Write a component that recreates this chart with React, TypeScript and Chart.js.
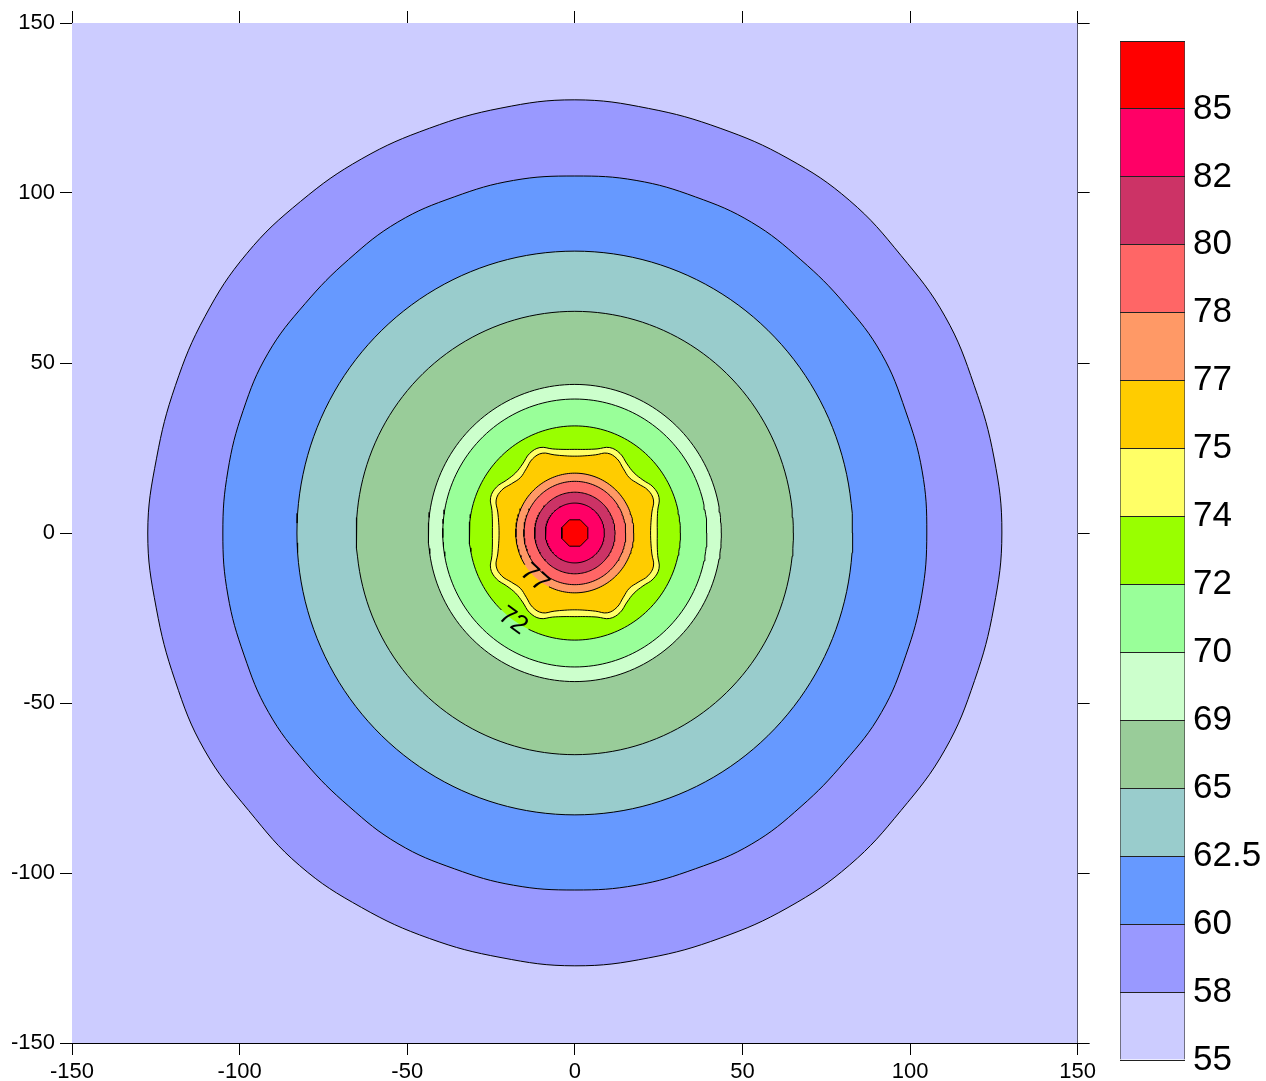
import React, { useEffect, useRef } from 'react';
import { Chart, registerables } from 'chart.js';

Chart.register(...registerables);

const FONT = '"Liberation Sans", Arial, Helvetica, sans-serif';

// ---- colour scale (lower boundary of each band) ----
const levels = [55, 58, 60, 62.5, 65, 69, 70, 72, 74, 75, 77, 78, 80, 82, 85];
const bandColors = [
  '#CCCCFF', '#9999FF', '#6699FF', '#99CCCC', '#99CC99', '#CCFFCC', '#99FF99',
  '#99FF00', '#FFFF66', '#FFCC00', '#FF9966', '#FF6666', '#CC3366', '#FF0066', '#FF0000',
];

// ---- axes ----
const axisMin = -150;
const axisMax = 150;
const axisStep = 50;

// ---- contour radii (samples at equally spaced angles, counter-clockwise from +x) ----
const contour58 = [
  127.4, 127.0, 126.8, 127.5, 127.0, 127.6, 127.2, 126.7, 126.8,
  127.4, 126.9, 126.7, 127.1, 127.3, 127.8, 127.4, 126.8, 126.7,
  127.4, 126.8, 126.9, 127.6, 127.0, 127.7, 127.2, 126.9, 126.8,
  127.3, 126.9, 126.8, 127.2, 127.5, 127.0, 127.5, 126.9, 126.9,
];
const contour60 = [
  105.0, 105.2, 105.0, 105.6, 105.0, 104.9, 105.5, 105.2, 105.3,
  105.0, 105.3, 105.2, 105.6, 105.0, 105.0, 105.7, 105.3, 105.1,
  105.0, 105.1, 105.0, 105.5, 105.0, 104.9, 105.5, 105.1, 105.2,
  105.0, 105.2, 105.1, 105.6, 105.0, 104.9, 105.6, 105.1, 105.1,
];
const contour62_5 = [82.9];
const contour65 = [65.2];
const contour69 = [43.7];
const contour70 = [39.4];
const contour72 = [31.5];
const contour74 = [
  24.6, 24.8, 25.6, 27.2, 27.0, 25.6, 25.0, 25.6, 27.0, 27.2, 25.6, 24.8,
  24.6, 24.8, 25.6, 27.2, 27.0, 25.6, 25.0, 25.6, 27.0, 27.2, 25.6, 24.8,
  24.6, 24.8, 25.6, 27.2, 27.0, 25.6, 25.0, 25.6, 27.0, 27.2, 25.6, 24.8,
  24.6, 24.8, 25.6, 27.2, 27.0, 25.6, 25.0, 25.6, 27.0, 27.2, 25.6, 24.8,
];
const contour75 = [
  22.6, 22.9, 23.8, 25.4, 25.2, 23.8, 23.0, 23.8, 25.2, 25.4, 23.8, 22.9,
  22.6, 22.9, 23.8, 25.4, 25.2, 23.8, 23.0, 23.8, 25.2, 25.4, 23.8, 22.9,
  22.6, 22.9, 23.8, 25.4, 25.2, 23.8, 23.0, 23.8, 25.2, 25.4, 23.8, 22.9,
  22.6, 22.9, 23.8, 25.4, 25.2, 23.8, 23.0, 23.8, 25.2, 25.4, 23.8, 22.9,
];
const contour77 = [17.6];
const contour78 = [15.2];
const contour80 = [12.0];
const contour82 = [8.8];
const contour85 = [4.2, 4.2, 4.2, 4.2, 4.2, 4.2, 4.2, 4.2];

const contourLevels = [58, 60, 62.5, 65, 69, 70, 72, 74, 75, 77, 78, 80, 82, 85];
const contourRadii = [
  contour58, contour60, contour62_5, contour65, contour69, contour70, contour72,
  contour74, contour75, contour77, contour78, contour80, contour82, contour85,
];
const contourStartAngle = [0, 0, 0, 0, 0, 0, 0, 0, 0, 0, 0, 0, 0, 22.5];

// ---- contour labels ----
const labelLevels = [77, 72];
const labelAngles = [227.7, 234.5];
const labelHalfGap = [16, 9];

const DEG = Math.PI / 180;
const CIRCLE_STEPS = 180;

type Pt = { x: number; y: number };

function buildContour(radii: number[], start: number) {
  const pts: Pt[] = [];
  const at = (r: number, a: number): Pt => ({ x: r * Math.cos(a * DEG), y: r * Math.sin(a * DEG) });
  if (radii.length === 1) {
    for (let k = 0; k <= CIRCLE_STEPS; k++) pts.push(at(radii[0], start + (k * 360) / CIRCLE_STEPS));
    return { pts, tension: 0, wrapped: false, step: 360 / CIRCLE_STEPS };
  }
  const n = radii.length;
  if (n <= 8) {
    for (let k = 0; k <= n; k++) pts.push(at(radii[k % n], start + (k * 360) / n));
    return { pts, tension: 0, wrapped: false, step: 360 / n };
  }
  for (let k = -1; k <= n + 1; k++) {
    const i = ((k % n) + n) % n;
    pts.push(at(radii[i], start + (k * 360) / n));
  }
  return { pts, tension: 0.4, wrapped: true, step: 360 / n };
}

const contourLabelPlugin = {
  id: 'contourLabels',
  afterDatasetsDraw(chart: any) {
    const { ctx } = chart;
    const xs = chart.scales.x;
    const ys = chart.scales.y;
    ctx.save();
    ctx.font = `26px ${FONT}`;
    ctx.fillStyle = '#000';
    ctx.textAlign = 'center';
    ctx.textBaseline = 'middle';
    labelLevels.forEach((lv, i) => {
      const ci = contourLevels.indexOf(lv);
      const r = contourRadii[ci][0];
      const P = (a: number) => ({
        px: xs.getPixelForValue(r * Math.cos(a * DEG)),
        py: ys.getPixelForValue(r * Math.sin(a * DEG)),
      });
      const c = P(labelAngles[i]);
      const p1 = P(labelAngles[i] - 1);
      const p2 = P(labelAngles[i] + 1);
      let rot = Math.atan2(p2.py - p1.py, p2.px - p1.px);
      if (rot > Math.PI / 2) rot -= Math.PI;
      if (rot < -Math.PI / 2) rot += Math.PI;
      ctx.save();
      ctx.translate(c.px, c.py);
      ctx.rotate(rot);
      ctx.fillText(String(lv), 0, 1);
      ctx.restore();
    });
    ctx.restore();
  },
};

export default function App() {
  const mainRef = useRef<HTMLCanvasElement>(null);
  const barRef = useRef<HTMLCanvasElement>(null);

  useEffect(() => {
    Chart.defaults.font.family = FONT;
    const built = contourRadii.map((r, i) => buildContour(r, contourStartAngle[i]));

    // filled regions: innermost first (Chart.js draws the last dataset first)
    const fillSets: any[] = built
      .map((b, i) => ({
        type: 'line',
        data: b.pts,
        backgroundColor: bandColors[levels.indexOf(contourLevels[i])],
        borderColor: 'rgba(0,0,0,0)',
        borderWidth: 0,
        fill: 'shape',
        pointRadius: 0,
        tension: b.tension,
      }))
      .reverse();
    fillSets.push({
      type: 'line',
      data: [
        { x: axisMin, y: axisMin },
        { x: axisMax, y: axisMin },
        { x: axisMax, y: axisMax },
        { x: axisMin, y: axisMax },
        { x: axisMin, y: axisMin },
      ],
      backgroundColor: bandColors[0],
      borderColor: 'rgba(0,0,0,0)',
      borderWidth: 0,
      fill: 'shape',
      pointRadius: 0,
      tension: 0,
    });

    const lineSets: any[] = built.map((b, i) => {
      const hidden = new Set<number>();
      if (b.wrapped) {
        hidden.add(0);
        hidden.add(b.pts.length - 2);
      }
      labelLevels.forEach((lv, li) => {
        if (lv !== contourLevels[i] || contourRadii[i].length !== 1) return;
        for (let k = 0; k < b.pts.length - 1; k++) {
          const mid = contourStartAngle[i] + (k + 0.5) * b.step;
          const diff = (((mid - labelAngles[li]) % 360) + 360) % 360;
          if (Math.min(diff, 360 - diff) < labelHalfGap[li]) hidden.add(k);
        }
      });
      const ds: any = {
        type: 'line',
        data: b.pts,
        fill: false,
        borderColor: '#000',
        backgroundColor: 'rgba(0,0,0,0)',
        borderWidth: 1,
        pointRadius: 0,
        tension: b.tension,
      };
      if (hidden.size) {
        ds.segment = {
          borderColor: (c: any) => (hidden.has(c.p0DataIndex) ? 'rgba(0,0,0,0)' : undefined),
        };
      }
      return ds;
    });

    const tickFont = { family: FONT, size: 22 };
    const grid = { drawOnChartArea: false, drawTicks: true, tickLength: 12, color: '#000', lineWidth: 1 };
    const border = { display: true, color: '#000', width: 1 };

    const main = new Chart(mainRef.current as HTMLCanvasElement, {
      type: 'line',
      data: { datasets: [...lineSets, ...fillSets] },
      options: {
        animation: false,
        responsive: false,
        maintainAspectRatio: false,
        events: [],
        layout: { padding: 0 },
        plugins: { legend: { display: false }, tooltip: { enabled: false } },
        scales: {
          x: {
            type: 'linear', position: 'bottom', min: axisMin, max: axisMax,
            ticks: { stepSize: axisStep, font: tickFont, color: '#000', padding: 4, maxRotation: 0, autoSkip: false },
            grid, border,
            afterFit: (s: any) => { s.height = 38; },
          },
          x2: {
            type: 'linear', position: 'top', min: axisMin, max: axisMax,
            ticks: { stepSize: axisStep, display: false },
            grid, border,
            afterFit: (s: any) => { s.height = 23; },
          },
          y: {
            type: 'linear', position: 'left', min: axisMin, max: axisMax,
            ticks: { stepSize: axisStep, font: tickFont, color: '#000', padding: 5, autoSkip: false },
            grid, border,
            afterFit: (s: any) => { s.width = 72; },
          },
          y2: {
            type: 'linear', position: 'right', min: axisMin, max: axisMax,
            ticks: { stepSize: axisStep, display: false },
            grid, border,
            afterFit: (s: any) => { s.width = 22; },
          },
        },
      } as any,
      plugins: [contourLabelPlugin],
    });

    const barSets = bandColors.map((c, i) => ({
      data: [[i, i + 1]],
      backgroundColor: c,
      borderColor: '#444',
      borderWidth: { left: 1, right: 1, top: 0, bottom: 0 },
      borderSkipped: false,
      barPercentage: 1,
      categoryPercentage: 1,
      grouped: false,
    }));

    const bar = new Chart(barRef.current as HTMLCanvasElement, {
      type: 'bar',
      data: { labels: ['scale'], datasets: barSets as any },
      options: {
        animation: false,
        responsive: false,
        maintainAspectRatio: false,
        events: [],
        layout: { padding: { left: 20, top: 41, bottom: 21, right: 0 } },
        plugins: { legend: { display: false }, tooltip: { enabled: false } },
        scales: {
          x: { display: false },
          y: {
            position: 'right', min: 0, max: levels.length,
            ticks: {
              stepSize: 1, autoSkip: false, font: { family: FONT, size: 35 }, color: '#000', padding: 8,
              callback: (v: any) => (levels[v] !== undefined ? String(levels[v]) : ''),
            },
            grid: { drawOnChartArea: true, drawTicks: false, color: '#222', lineWidth: 1, z: 1 },
            border: { display: false },
            afterFit: (s: any) => {
              s.width = 81;
              s.paddingTop = 0;
              s.paddingBottom = 0;
            },
          },
        },
      } as any,
    });

    return () => {
      main.destroy();
      bar.destroy();
    };
  }, []);

  return (
    <div style={{ position: 'absolute', left: 0, top: 0, width: 1266, height: 1081, background: '#fff', overflow: 'hidden' }}>
      <canvas ref={mainRef} width={1100} height={1081} style={{ position: 'absolute', left: 0, top: 0 }} />
      <canvas ref={barRef} width={166} height={1081} style={{ position: 'absolute', left: 1100, top: 0 }} />
    </div>
  );
}
